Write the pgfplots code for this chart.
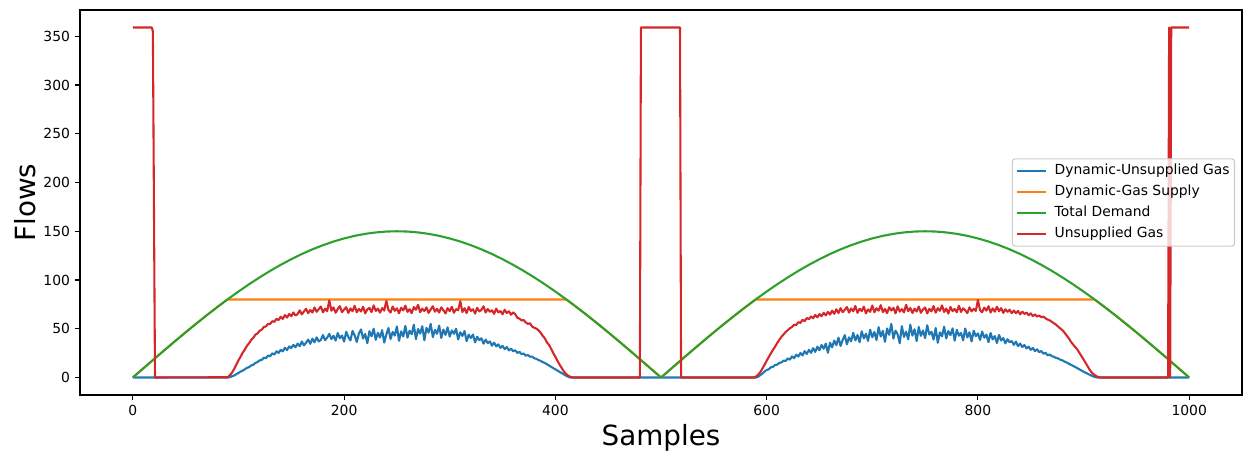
\documentclass[border=0pt]{standalone}
\usepackage{fontspec}
\setmainfont{DejaVu Sans}
\usepackage{pgfplots}
\pgfplotsset{compat=1.18}

\definecolor{tabblue}{HTML}{1F77B4}
\definecolor{taborange}{HTML}{FF7F0E}
\definecolor{tabgreen}{HTML}{2CA02C}
\definecolor{tabred}{HTML}{D62728}

\begin{document}
\begin{tikzpicture}
\begin{axis}[
  name=ax,
  scale only axis,
  width=836.64pt, height=277.2pt,
  xmin=-50, xmax=1050,
  ymin=-17.95, ymax=376.95,
  xtick={0,200,400,600,800,1000},
  ytick={0,50,100,150,200,250,300,350},
  tick align=outside,
  xtick pos=bottom, ytick pos=left,
  major tick length=3.5pt,
  every tick/.style={black, line width=0.8pt},
  axis line style={black, line width=0.8pt},
  /pgf/number format/assume math mode=true,
  /pgf/number format/1000 sep={},
  tick label style={font=\fontsize{10}{12}\selectfont},
  xticklabel style={inner sep=0pt, anchor=north, yshift=-3.5pt},
  yticklabel style={inner sep=0pt, anchor=east, xshift=-3.5pt},
  xlabel={Samples}, ylabel={Flows},
  label style={font=\fontsize{20}{24}\selectfont},
  xlabel style={at={(axis description cs:0.5,0)}, anchor=base, yshift=-36.4pt, inner sep=0pt},
  ylabel style={at={(axis description cs:0,0.5)}, rotate=0, anchor=base, yshift=31.7pt, inner sep=0pt},
  legend style={
    at={(axis description cs:1,0.5)}, anchor=east, xshift=-5pt,
    draw=black!20, line width=0.8pt, rounded corners=2pt,
    fill=white, fill opacity=0.8, text opacity=1, draw opacity=1,
    font=\fontsize{10}{12}\selectfont,
    inner xsep=2.5pt, inner ysep=3pt, row sep=3.2pt,
    nodes={inner sep=1pt, text height=7.5pt, text depth=2.3pt},
    /tikz/every odd column/.append style={column sep=4.5pt},
  },
  legend cell align=left,
  legend image code/.code={\draw[#1, line width=1.5pt] (0pt,0pt) -- (21pt,0pt);},
  every axis plot/.append style={line width=1.5pt, line join=round},
]

% Dynamic unsupplied gas
\addplot[tabblue] coordinates {
(0,0) (90,0) (92,0.4) (94,1.3) (96,2.0) (98,3.4) (100,4.6) (102,6.1) (104,7.0) (106,8.4) (108,9.9)
(110,10.6) (112,12.4) (114,13.0) (116,14.9) (118,15.8) (120,17.6) (122,17.9) (124,20.3) (126,19.8) (128,22.6)
(130,21.7) (132,24.8) (134,23.5) (136,26.9) (138,25.2) (140,28.4) (142,26.8) (144,30.6) (146,28.1) (148,31.9)
(150,30.2) (152,33.5) (154,31.0) (156,34.8) (158,32.1) (160,36.9) (162,33.0) (164,35.7) (166,38.9) (168,34.6)
(170,39.8) (172,36.1) (174,41.2) (176,37.0) (178,38.5) (180,43.6) (182,38.2) (184,41.0) (186,44.7) (188,39.4)
(190,42.8) (192,37.9) (194,45.6) (196,40.3) (198,43.1) (200,36.8) (202,46.9) (204,41.5) (206,38.0) (208,47.8)
(210,43.2) (212,36.4) (214,45.1) (216,49.3) (218,40.0) (220,44.6) (222,35.2) (224,47.5) (226,42.3) (228,50.1)
(230,38.7) (232,45.9) (234,41.0) (236,48.6) (238,35.8) (240,44.2) (242,50.7) (244,39.5) (246,46.8) (248,43.0)
(250,52.4) (252,37.6) (254,47.3) (256,42.1) (258,53.0) (260,40.9) (262,48.0) (264,44.4) (266,54.2) (268,39.3)
(270,49.7) (272,45.0) (274,52.6) (276,38.2) (278,50.9) (280,46.1) (282,55.0) (284,41.4) (286,48.8) (288,44.9)
(290,53.3) (292,40.6) (294,49.2) (296,43.7) (298,51.5) (300,42.0) (302,48.3) (304,44.8) (306,50.0) (308,39.1)
(310,46.4) (312,42.6) (314,47.7) (316,37.3) (318,43.9) (320,40.5) (322,44.1) (324,36.0) (326,41.8) (328,38.3)
(330,40.2) (332,34.7) (334,38.9) (336,35.3) (338,37.0) (340,32.6) (342,35.8) (344,31.9) (346,34.0) (348,30.4)
(350,32.5) (352,29.1) (354,31.3) (356,27.8) (358,29.6) (360,27.0) (362,27.9) (364,25.2) (366,26.3) (368,24.0)
(370,24.6) (372,22.4) (374,23.1) (376,21.3) (378,21.5) (380,19.7) (382,19.2) (384,17.9) (386,17.1) (388,15.8)
(390,14.9) (392,13.6) (394,12.3) (396,11.0) (398,9.6) (400,8.4) (402,7.1) (404,5.8) (406,4.5) (408,3.2)
(410,1.9) (412,0.8) (414,0)
(590,0) (592,0.9) (594,2.4) (596,4.1) (598,6.0) (600,7.7) (602,8.4) (604,10.5) (606,10.9) (608,12.8)
(610,13.2) (612,15.0) (614,15.4) (616,17.3) (618,17.0) (620,19.6) (622,18.3) (624,21.7) (626,19.8) (628,23.4)
(630,21.5) (632,25.2) (634,22.6) (636,27.0) (638,24.1) (640,28.4) (642,25.3) (644,30.1) (646,26.2) (648,31.7)
(650,28.0) (652,33.4) (654,29.5) (656,34.8) (658,25.4) (660,35.6) (662,31.0) (664,37.9) (666,33.2) (668,40.8)
(670,32.4) (672,38.6) (674,43.5) (676,34.0) (678,41.2) (680,37.1) (682,45.8) (684,38.0) (686,43.6) (688,36.2)
(690,47.4) (692,40.1) (694,44.9) (696,37.5) (698,49.0) (700,41.3) (702,46.7) (704,38.4) (706,51.6) (708,42.0)
(710,47.9) (712,36.6) (714,50.3) (716,43.8) (718,55.0) (720,39.9) (722,48.1) (724,44.3) (726,35.1) (728,52.7)
(730,41.6) (732,46.9) (734,39.2) (736,54.1) (738,43.0) (740,49.5) (742,37.4) (744,51.8) (746,42.7) (748,48.2)
(750,40.5) (752,53.6) (754,44.1) (756,47.0) (758,38.9) (760,50.8) (762,35.6) (764,46.3) (766,42.2) (768,52.1)
(770,40.0) (772,47.6) (774,43.4) (776,50.4) (778,37.8) (780,48.9) (782,42.9) (784,45.7) (786,38.1) (788,50.2)
(790,41.1) (792,46.4) (794,36.9) (796,48.0) (798,42.4) (800,45.3) (802,38.6) (804,47.1) (806,40.8) (808,44.0)
(810,36.3) (812,45.6) (814,39.0) (816,42.5) (818,35.4) (820,43.7) (822,37.9) (824,40.6) (826,35.0) (828,39.3)
(830,36.2) (832,37.4) (834,33.5) (836,36.8) (838,32.1) (840,34.9) (842,31.2) (844,33.3) (846,29.8) (848,31.6)
(850,28.4) (852,30.3) (854,27.1) (856,28.9) (858,26.0) (860,27.2) (862,24.4) (864,25.3) (866,22.8) (868,23.6)
(870,21.9) (872,21.2) (874,20.1) (876,19.5) (878,18.2) (880,17.6) (882,16.3) (884,15.4) (886,14.2) (888,13.1)
(890,12.0) (892,10.8) (894,9.6) (896,8.4) (898,7.2) (900,6.0) (902,4.9) (904,3.8) (906,2.7) (908,1.7)
(910,0.8) (913,0) (1000,0)
};
\addlegendentry{Dynamic-Unsupplied Gas}

% Dynamic gas supply, capped at 80
\addplot[taborange] coordinates {
(0,0) (10,9.42) (20,18.80) (30,28.11) (40,37.30) (50,46.35) (60,55.22) (70,63.87) (80,72.26) (89.5,80)
(410.5,80) (420,72.26) (430,63.87) (440,55.22) (450,46.35) (460,37.30) (470,28.11) (480,18.80) (490,9.42) (500,0)
(510,9.42) (520,18.80) (530,28.11) (540,37.30) (550,46.35) (560,55.22) (570,63.87) (580,72.26) (589.5,80)
(910.5,80) (920,72.26) (930,63.87) (940,55.22) (950,46.35) (960,37.30) (970,28.11) (980,18.80) (990,9.42) (1000,0)
};
\addlegendentry{Dynamic-Gas Supply}

% Total demand
\addplot[tabgreen] coordinates {
(0,0) (10,9.42) (20,18.80) (30,28.11) (40,37.30) (50,46.35) (60,55.22) (70,63.87) (80,72.26) (90,80.37)
(100,88.17) (110,95.61) (120,102.68) (130,109.35) (140,115.58) (150,121.35) (160,126.65) (170,131.45) (180,135.72) (190,139.47)
(200,142.66) (210,145.29) (220,147.34) (230,148.82) (240,149.70) (250,150.00) (260,149.70) (270,148.82) (280,147.34) (290,145.29)
(300,142.66) (310,139.47) (320,135.72) (330,131.45) (340,126.65) (350,121.35) (360,115.58) (370,109.35) (380,102.68) (390,95.61)
(400,88.17) (410,80.37) (420,72.26) (430,63.87) (440,55.22) (450,46.35) (460,37.30) (470,28.11) (480,18.80) (490,9.42)
(500,0)
(510,9.42) (520,18.80) (530,28.11) (540,37.30) (550,46.35) (560,55.22) (570,63.87) (580,72.26) (590,80.37)
(600,88.17) (610,95.61) (620,102.68) (630,109.35) (640,115.58) (650,121.35) (660,126.65) (670,131.45) (680,135.72) (690,139.47)
(700,142.66) (710,145.29) (720,147.34) (730,148.82) (740,149.70) (750,150.00) (760,149.70) (770,148.82) (780,147.34) (790,145.29)
(800,142.66) (810,139.47) (820,135.72) (830,131.45) (840,126.65) (850,121.35) (860,115.58) (870,109.35) (880,102.68) (890,95.61)
(900,88.17) (910,80.37) (920,72.26) (930,63.87) (940,55.22) (950,46.35) (960,37.30) (970,28.11) (980,18.80) (990,9.42)
(1000,0)
};
\addlegendentry{Total Demand}

% Unsupplied gas
\addplot[tabred] coordinates {
(0,359) (18,359) (19,355) (21,0)
(90,0.3) (92,2.4) (94,5.1) (96,9.0) (98,13.2) (100,17.6) (102,21.3) (104,25.4) (106,28.6) (108,32.5)
(110,35.1) (112,38.4) (114,40.6) (116,43.9) (118,45.2) (120,47.9) (122,49.0) (124,51.8) (126,52.4) (128,55.0)
(130,54.9) (132,57.8) (134,57.1) (136,60.2) (138,58.9) (140,62.3) (142,60.1) (144,64.0) (146,61.5) (148,65.2)
(150,62.8) (152,66.7) (154,63.6) (156,65.0) (158,68.9) (160,64.7) (162,67.8) (164,70.5) (166,65.9) (168,69.3)
(170,66.6) (172,71.8) (174,67.4) (176,70.0) (178,72.9) (180,66.8) (182,70.6) (184,68.1) (186,79.0) (188,68.5)
(190,71.9) (192,66.4) (194,70.3) (196,73.2) (198,67.0) (200,69.7) (202,72.1) (204,66.2) (206,70.8) (208,68.0)
(210,73.5) (212,66.9) (214,70.4) (216,67.7) (218,72.6) (220,65.8) (222,69.9) (224,71.4) (226,67.1) (228,74.0)
(230,68.2) (232,70.7) (234,66.5) (236,71.3) (238,68.6) (240,78.6) (242,69.2) (244,66.7) (246,72.8) (248,68.4)
(250,70.9) (252,65.9) (254,71.6) (256,68.8) (258,73.7) (260,67.3) (262,70.1) (264,66.0) (266,72.3) (268,69.5)
(270,74.6) (272,67.0) (274,70.6) (276,68.1) (278,71.9) (280,66.3) (282,69.8) (284,73.1) (286,67.5) (288,70.4)
(290,66.6) (292,72.0) (294,68.9) (296,65.7) (298,71.2) (300,68.0) (302,72.5) (304,66.4) (306,70.2) (308,69.0)
(310,78.3) (312,67.2) (314,71.0) (316,66.1) (318,72.4) (320,68.3) (322,70.0) (324,65.6) (326,71.5) (328,67.8)
(330,69.4) (332,73.0) (334,66.7) (336,70.3) (338,67.4) (340,68.9) (342,65.3) (344,70.6) (346,66.8) (348,68.2)
(350,64.9) (352,69.5) (354,66.2) (356,67.9) (358,64.4) (360,66.8) (362,65.0) (364,61.2) (366,60.4) (368,58.5)
(370,58.9) (372,56.4) (374,55.0) (376,55.6) (378,52.3) (380,51.0) (382,50.2) (384,48.4) (386,46.1) (388,42.7)
(390,40.2) (392,36.0) (394,33.5) (396,29.4) (398,25.1) (400,21.3) (402,17.0) (404,13.2) (406,9.8) (408,6.3)
(410,3.9) (412,2.0) (414,0.8) (417,0)
(480,0) (481,359) (518,359) (519,0)
(588,0) (590,1.0) (592,2.9) (594,5.5) (596,9.2) (598,13.0) (600,17.1) (602,21.0) (604,24.8) (606,28.3)
(608,31.7) (610,35.4) (612,38.6) (614,41.8) (616,44.1) (618,46.7) (620,48.5) (622,50.6) (624,51.8) (626,54.1)
(628,53.9) (630,56.8) (632,56.0) (634,59.2) (636,57.8) (638,61.0) (640,59.9) (642,62.6) (644,60.8) (646,64.1)
(648,61.7) (650,65.2) (652,62.9) (654,66.4) (656,63.8) (658,67.3) (660,64.5) (662,68.6) (664,65.3) (666,70.0)
(668,66.1) (670,71.2) (672,67.0) (674,69.4) (676,72.3) (678,66.6) (680,70.8) (682,67.9) (684,73.4) (686,66.3)
(688,70.5) (690,68.2) (692,72.7) (694,65.8) (696,69.9) (698,67.4) (700,73.9) (702,66.9) (704,71.0) (706,68.5)
(708,74.2) (710,67.1) (712,70.3) (714,66.0) (716,72.1) (718,68.7) (720,71.5) (722,65.9) (724,73.0) (726,67.6)
(728,70.1) (730,66.8) (732,74.6) (734,68.0) (736,71.3) (738,66.2) (740,70.6) (742,67.7) (744,72.8) (746,66.4)
(748,69.8) (750,71.9) (752,65.7) (754,70.4) (756,67.9) (758,73.3) (760,66.5) (762,71.1) (764,68.4) (766,74.0)
(768,67.2) (770,70.7) (772,65.6) (774,72.4) (776,68.1) (778,70.3) (780,66.9) (782,73.6) (784,67.3) (786,71.0)
(788,68.8) (790,66.1) (792,72.0) (794,67.8) (796,70.5) (798,68.3) (800,79.5) (802,69.1) (804,67.0) (806,71.7)
(808,68.6) (810,73.1) (812,66.7) (814,70.9) (816,67.5) (818,72.6) (820,68.0) (822,71.2) (824,66.3) (826,70.0)
(828,67.4) (830,69.6) (832,66.0) (834,68.7) (836,65.9) (838,68.3) (840,64.8) (842,67.5) (844,65.2) (846,66.6)
(848,63.9) (850,65.8) (852,63.0) (854,64.7) (856,62.5) (858,63.6) (860,61.8) (862,62.4) (864,60.7) (866,59.4)
(868,58.6) (870,57.1) (872,55.6) (874,54.2) (876,52.1) (878,50.3) (880,48.6) (882,46.0) (884,43.1) (886,40.2)
(888,36.8) (890,34.0) (892,31.3) (894,29.0) (896,25.4) (898,22.0) (900,18.6) (902,14.9) (904,11.2) (906,7.6)
(908,4.8) (910,2.9) (912,1.4) (914,0.5) (916,0)
(980,0) (981,359) (982,0) (983,359) (1000,359)
};
\addlegendentry{Unsupplied Gas}

\end{axis}
% page area around the axis box
\path (ax.south west) ++(-57.6pt,-48.24pt) rectangle ++(901.44pt,332.64pt);
\end{tikzpicture}
\end{document}
